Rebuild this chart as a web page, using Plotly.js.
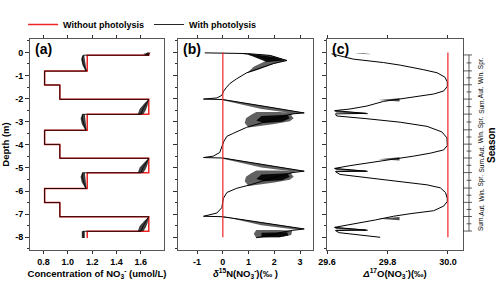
<!DOCTYPE html>
<html><head><meta charset="utf-8">
<script src="https://cdn.plot.ly/plotly-3.0.1.min.js"></script>
<style>html,body{margin:0;padding:0;background:#fff}#chart{width:500px;height:285px}</style>
</head><body><div id="chart"></div>
<script>
// ---------- data ----------
// depth tick labels
const depthTicks = [0, -1, -2, -3, -4, -5, -6, -7, -8];
const depthTickText = ['0', '-1', '-2', '-3', '-4', '-5', '-6', '-7', '-8'];
// panel (a) x ticks
const concTicks = [0.8, 1.0, 1.2, 1.4, 1.6];
const concTickText = ['0.8', '1.0', '1.2', '1.4', '1.6'];
// panel (b) x ticks
const d15Ticks = [-1, 0, 1, 2, 3];
const d15TickText = ['-1', '0', '1', '2', '3'];
// panel (c) x ticks
const d17Ticks = [29.6, 29.8, 30.0];
const d17TickText = ['29.6', '29.8', '30.0'];

// (a) Without photolysis: step profile
const stepDepth = [0, -0.12, -0.81, -1.41, -2.03, -2.68, -3.37, -3.98, -4.58, -5.21, -5.89, -6.5, -7.11, -7.74, -8.03];
const concNoPhoto = [1.665, 1.16, 0.81, 0.935, 1.665, 1.16, 0.81, 0.935, 1.665, 1.16, 0.81, 0.935, 1.665, 1.16, 1.16];

// (a) With photolysis: central line
const concWith = [1.66, 1.645, 1.665, 1.13, 1.12, 1.125, 1.14, 1.155, 0.81, 0.81, 0.935, 0.935, 1.665, 1.645, 1.62, 1.6, 1.12, 1.12, 1.13, 1.15, 0.81, 0.81, 0.935, 0.935, 1.665, 1.645, 1.62, 1.6, 1.12, 1.12, 1.13, 1.15, 0.81, 0.81, 0.935, 0.935, 1.665, 1.645, 1.62, 1.6, 1.125, 1.125, 1.13];
const depthWithA = [0, -0.06, -0.12, -0.12, -0.25, -0.45, -0.65, -0.81, -0.81, -1.41, -1.41, -2.03, -2.03, -2.2, -2.42, -2.68, -2.68, -2.85, -3.1, -3.37, -3.37, -3.98, -3.98, -4.58, -4.58, -4.75, -4.97, -5.21, -5.21, -5.38, -5.62, -5.89, -5.89, -6.5, -6.5, -7.11, -7.11, -7.28, -7.5, -7.74, -7.74, -7.9, -8.03];
// (a) With photolysis: spread (polygons)
const concBand = [1.62, 1.68, 1.665, 1.64, null,
  1.12, 1.11, 1.12, 1.145, 1.155, 1.145, 1.14, 1.135, null,
  1.665, 1.655, 1.64, 1.62, 1.575, 1.59, 1.63, null,
  1.12, 1.105, 1.115, 1.145, 1.155, 1.15, 1.14, null,
  1.665, 1.655, 1.64, 1.62, 1.575, 1.59, 1.63, null,
  1.12, 1.105, 1.115, 1.145, 1.155, 1.15, 1.14, null,
  1.665, 1.655, 1.64, 1.62, 1.575, 1.59, 1.63, null,
  1.115, 1.14, 1.14, 1.115];
const depthBandA = [-0.06, 0, -0.12, -0.12, null,
  -0.12, -0.3, -0.55, -0.81, -0.81, -0.55, -0.3, -0.12, null,
  -2.03, -2.3, -2.5, -2.68, -2.68, -2.45, -2.2, null,
  -2.68, -2.85, -3.1, -3.37, -3.37, -3.1, -2.68, null,
  -4.58, -4.85, -5.05, -5.21, -5.21, -4.98, -4.75, null,
  -5.21, -5.38, -5.62, -5.89, -5.89, -5.62, -5.21, null,
  -7.11, -7.38, -7.58, -7.74, -7.74, -7.51, -7.28, null,
  -7.74, -7.74, -8.03, -8.03];

// (b) and (c): without photolysis constant profiles
const profileDepth = [0, -8];
const d15NoPhoto = [0, 0];
const d17NoPhoto = [30.0, 30.0];

// (b) With photolysis: central line
const d15With = [-0.70, 0.0, 0.95, 1.84, 2.49, 1.97, 1.32, 0.93, 0.54, 0.28, 0.13, 0.02, -0.04, -0.23, -0.75, 0.0, 1.6, 3.16, 2.7, 2.2, 1.9, 1.5, 1.06, 0.93, 0.41, 0.16, 0.04, -0.04, -0.12, -0.37, -0.75, 0.0, 1.6, 3.16, 2.7, 2.2, 1.95, 1.5, 1.1, 0.54, 0.16, 0.02, -0.04, -0.23, -0.75, 0.0, 1.6, 3.16, 2.7, 2.2, 1.9, 1.5, 1.3];
const depthWithB = [-0.02, -0.03, -0.05, -0.13, -0.35, -0.48, -0.75, -0.88, -1.14, -1.34, -1.53, -1.70, -1.86, -1.97, -2.02, -2.04, -2.33, -2.62, -2.66, -2.8, -2.92, -3.05, -3.17, -3.24, -3.50, -3.63, -3.85, -4.1, -4.33, -4.49, -4.55, -4.57, -4.86, -5.14, -5.2, -5.33, -5.42, -5.58, -5.72, -5.88, -6.06, -6.32, -6.72, -6.95, -7.09, -7.11, -7.38, -7.64, -7.7, -7.8, -7.9, -7.97, -8.02];
// (b) With photolysis: outer spread (polygons)
const d15Band = [0.7, 1.84, 2.49, 1.97, 1.32, 0.93, 1.2, 1.7, 1.2, 0.7, null,
  0.0, 3.16, 2.8, 1.5, 0.3, 0.0, null,
  1.3, 2.2, 2.8, 2.65, 2.75, 2.6, 2.0, 1.4, 1.0, 0.85, 0.9, 1.1, null,
  0.0, 3.16, 2.8, 1.5, 0.3, 0.0, null,
  1.3, 2.2, 2.8, 2.65, 2.75, 2.6, 2.0, 1.4, 1.0, 0.85, 0.9, 1.1, null,
  0.0, 3.16, 2.8, 1.5, 0.3, 0.0, null,
  1.3, 2.2, 2.7, 2.65, 2.2, 1.3, 1.2];
const depthBandB = [-0.04, -0.12, -0.35, -0.5, -0.77, -0.9, -0.62, -0.35, -0.16, -0.06, null,
  -2.03, -2.61, -2.64, -2.45, -2.15, -2.07, null,
  -2.58, -2.58, -2.62, -2.72, -2.85, -2.98, -3.1, -3.2, -3.25, -3.05, -2.85, -2.7, null,
  -4.56, -5.13, -5.16, -4.98, -4.68, -4.6, null,
  -5.11, -5.11, -5.15, -5.25, -5.38, -5.51, -5.63, -5.73, -5.78, -5.58, -5.38, -5.23, null,
  -7.1, -7.63, -7.66, -7.48, -7.18, -7.14, null,
  -7.68, -7.68, -7.72, -7.9, -8.0, -8.03, -7.85];
// (b) With photolysis: dense core of the spread (polygons)
const d15Core = [1.0, 2.0, 2.4, 1.7, 1.0, null,
  1.5, 2.5, 2.6, 2.3, 1.6, 1.3, null,
  1.5, 2.5, 2.6, 2.3, 1.6, 1.3, null,
  1.5, 2.5, 2.55, 2.2, 1.5];
const depthCore = [-0.06, -0.2, -0.35, -0.42, -0.1, null,
  -2.75, -2.7, -2.85, -3.0, -3.05, -2.95, null,
  -5.28, -5.23, -5.38, -5.53, -5.58, -5.48, null,
  -7.8, -7.78, -7.92, -8.0, -7.98];

// (c) With photolysis: central line
const d17With = [29.615, 29.687, 29.787, 29.842, 29.92, 29.964, 29.99, 29.998, 29.998, 29.986, 29.953, 29.898, 29.842, 29.787, 29.732, 29.676, 29.625, 29.73, 29.628, 29.632, 29.732, 29.842, 29.931, 29.98, 29.997, 29.998, 29.986, 29.942, 29.886, 29.831, 29.787, 29.732, 29.676, 29.625, 29.73, 29.628, 29.643, 29.732, 29.842, 29.931, 29.975, 29.992, 29.998, 29.998, 29.986, 29.953, 29.875, 29.82, 29.76, 29.7, 29.65, 29.625, 29.73, 29.628, 29.64, 29.776];
const depthWithC = [-0.06, -0.29, -0.44, -0.55, -0.75, -0.88, -1.07, -1.27, -1.47, -1.67, -1.80, -1.90, -1.99, -2.12, -2.32, -2.45, -2.52, -2.64, -2.66, -2.75, -2.87, -3.02, -3.20, -3.44, -3.70, -4.03, -4.22, -4.36, -4.49, -4.59, -4.68, -4.80, -4.90, -5.02, -5.14, -5.16, -5.28, -5.42, -5.58, -5.73, -5.86, -6.06, -6.32, -6.45, -6.65, -6.85, -6.98, -7.09, -7.25, -7.4, -7.5, -7.57, -7.69, -7.71, -7.8, -8.0];
// (c) With photolysis: spread (polygons)
const d17Band = [29.695, 29.75, 29.72, 29.75, 29.7, null,
  29.77, 29.84, 29.84, null,
  29.625, 29.735, 29.735, 29.63, null,
  29.77, 29.84, 29.84, null,
  29.625, 29.735, 29.735, 29.63, null,
  29.77, 29.84, 29.84, null,
  29.625, 29.735, 29.735, 29.63];
const depthBandC = [-0.05, -0.03, -0.05, -0.08, -0.06, null,
  -2.06, -1.98, -2.12, null,
  -2.52, -2.62, -2.68, -2.6, null,
  -4.62, -4.54, -4.68, null,
  -5.02, -5.12, -5.18, -5.1, null,
  -7.2, -7.12, -7.26, null,
  -7.57, -7.67, -7.73, -7.65];

// seasons (right-hand axis)
const seasonBounds = [-0.11, -0.8, -1.4, -2.02, -2.67, -3.35, -3.97, -4.57, -5.2, -5.87, -6.49, -7.1, -7.73];
const seasonNames = ['Spr.', 'Win.', 'Aut.', 'Sum.', 'Spr.', 'Win.', 'Aut.', 'Sum.', 'Spr.', 'Win.', 'Aut.', 'Sum.'];

// ---------- build ----------
const RED = '#ee2424';
const FONT = 'Liberation Sans, Arial, sans-serif';
const bandFill = 'rgba(0,0,0,0.62)';
const coreFill = 'rgba(0,0,0,0.9)';

// season bracket lines from boundaries
const sX = [], sY = [];
seasonBounds.forEach(b => { sX.push(0, 0.75, null); sY.push(b, b, null); });
sX.push(0.5, 0.5, null); sY.push(seasonBounds[0], seasonBounds[seasonBounds.length - 1], null);
for (let i = 0; i < seasonBounds.length - 1; i++) {
  const m = (seasonBounds[i] + seasonBounds[i + 1]) / 2;
  sX.push(0.3, 0.7, null); sY.push(m, m, null);
}

const fillTrace = (x, y, xa, ya, col) => ({x: x, y: y, xaxis: xa, yaxis: ya, mode: 'lines', fill: 'toself', fillcolor: col,
  line: {width: 0, color: 'rgba(0,0,0,0)'}, showlegend: false, hoverinfo: 'skip'});

const traces = [
  {x: concNoPhoto, y: stepDepth, xaxis: 'x', yaxis: 'y', mode: 'lines', line: {color: RED, width: 1.5, shape: 'vh'},
   name: 'Without photolysis', legendgroup: 'no', showlegend: true},
  fillTrace(concBand, depthBandA, 'x', 'y', 'rgba(0,0,0,0.75)'),
  {x: concWith, y: depthWithA, xaxis: 'x', yaxis: 'y', mode: 'lines', line: {color: 'rgba(0,0,0,0.85)', width: 1},
   name: 'With photolysis', legendgroup: 'with', showlegend: true},

  fillTrace(d15Band, depthBandB, 'x2', 'y2', bandFill),
  fillTrace(d15Core, depthCore, 'x2', 'y2', coreFill),
  {x: d15With, y: depthWithB, xaxis: 'x2', yaxis: 'y2', mode: 'lines', line: {color: '#000', width: 1}, showlegend: false},
  {x: d15NoPhoto, y: profileDepth, xaxis: 'x2', yaxis: 'y2', mode: 'lines', line: {color: 'rgba(238,36,36,0.8)', width: 1.5}, showlegend: false},

  fillTrace(d17Band, depthBandC, 'x3', 'y3', 'rgba(0,0,0,0.7)'),
  {x: d17With, y: depthWithC, xaxis: 'x3', yaxis: 'y3', mode: 'lines', line: {color: '#000', width: 1}, showlegend: false},
  {x: d17NoPhoto, y: profileDepth, xaxis: 'x3', yaxis: 'y3', mode: 'lines', line: {color: RED, width: 1.2}, showlegend: false},

  {x: sX, y: sY, xaxis: 'x4', yaxis: 'y3', mode: 'lines', line: {color: '#333', width: 0.8}, showlegend: false, hoverinfo: 'skip'}
];

const tickFont = {family: FONT, size: 9, color: '#000', weight: 'bold'};
const titleFont = {family: FONT, size: 9.5, color: '#000', weight: 'bold'};
const yRange = [-8.55, 0.58];
function yAx(anchor, labels) {
  return {anchor: anchor, range: yRange, tickmode: 'array', tickvals: depthTicks, ticktext: depthTickText,
    showticklabels: labels, ticks: 'outside', ticklen: 4, tickwidth: 1, tickcolor: '#333',
    minor: {tickmode: 'linear', tick0: 0, dtick: 0.5, ticks: 'outside', ticklen: 2, tickcolor: '#333'},
    showline: true, mirror: true, linecolor: '#555', linewidth: 1, showgrid: false, zeroline: false,
    tickfont: tickFont};
}
function xAx(domain, range, vals, text, title, anchor) {
  return {domain: domain, range: range, anchor: anchor, tickmode: 'array', tickvals: vals, ticktext: text,
    ticks: 'outside', ticklen: 3, tickwidth: 1, tickcolor: '#333', showline: true, mirror: 'ticks',
    linecolor: '#555', linewidth: 1, showgrid: false, zeroline: false, tickfont: tickFont,
    title: {text: title, font: titleFont, standoff: 1}};
}

const seasonAnn = seasonNames.map((s, i) => ({
  text: s, xref: 'paper', yref: 'y3', x: 0.981, y: (seasonBounds[i] + seasonBounds[i + 1]) / 2,
  textangle: -90, showarrow: false, font: {family: FONT, size: 6.5, color: '#000'}, xanchor: 'center', yanchor: 'middle'
}));

const layout = {
  width: 500, height: 285,
  margin: {l: 30, r: 10, t: 18, b: 35},
  paper_bgcolor: '#fff', plot_bgcolor: '#fff',
  font: {family: FONT, color: '#000'},
  showlegend: true,
  legend: {orientation: 'h', x: -0.015, xanchor: 'left', y: 1.0, yanchor: 'bottom',
    font: {family: FONT, size: 9, color: '#000', weight: 'bold'}, itemwidth: 30, tracegroupgap: 0,
    bgcolor: 'rgba(0,0,0,0)'},
  xaxis: xAx([0, 0.2913], [0.69, 1.79], concTicks, concTickText, 'Concentration of NO<sub>3</sub><sup>-</sup> (umol/L)', 'y'),
  xaxis2: xAx([0.3217, 0.6152], [-1.74, 3.5], d15Ticks, d15TickText, '<i>δ</i><sup>15</sup>N(NO<sub>3</sub><sup>-</sup>)(‰ )', 'y2'),
  xaxis3: xAx([0.6457, 0.9413], [29.6, 30.05], d17Ticks, d17TickText, '<i>Δ</i><sup>17</sup>O(NO<sub>3</sub><sup>-</sup>)(‰)', 'y3'),
  xaxis4: {domain: [0.9413, 0.9674], range: [0, 1], anchor: 'y3', visible: false, showgrid: false, zeroline: false},
  yaxis: Object.assign(yAx('x', true), {title: {text: 'Depth (m)', font: titleFont, standoff: 4}}),
  yaxis2: yAx('x2', false),
  yaxis3: yAx('x3', false),
  annotations: [
    {text: '(a)', xref: 'x domain', yref: 'y domain', x: 0.02, y: 1.0, xanchor: 'left', yanchor: 'top', showarrow: false,
     font: {family: FONT, size: 14, color: '#000', weight: 'bold'}},
    {text: '(b)', xref: 'x2 domain', yref: 'y2 domain', x: 0.02, y: 1.0, xanchor: 'left', yanchor: 'top', showarrow: false,
     font: {family: FONT, size: 14, color: '#000', weight: 'bold'}},
    {text: '(c)', xref: 'x3 domain', yref: 'y3 domain', x: 0.02, y: 1.0, xanchor: 'left', yanchor: 'top', showarrow: false,
     font: {family: FONT, size: 14, color: '#000', weight: 'bold'}},
    {text: 'Season', xref: 'paper', yref: 'paper', x: 1.003, y: 0.5, textangle: -90, showarrow: false,
     font: {family: FONT, size: 10, color: '#000', weight: 'bold'}, xanchor: 'center', yanchor: 'middle'}
  ].concat(seasonAnn)
};

Plotly.newPlot('chart', traces, layout, {staticPlot: true, displayModeBar: false});
</script></body></html>
